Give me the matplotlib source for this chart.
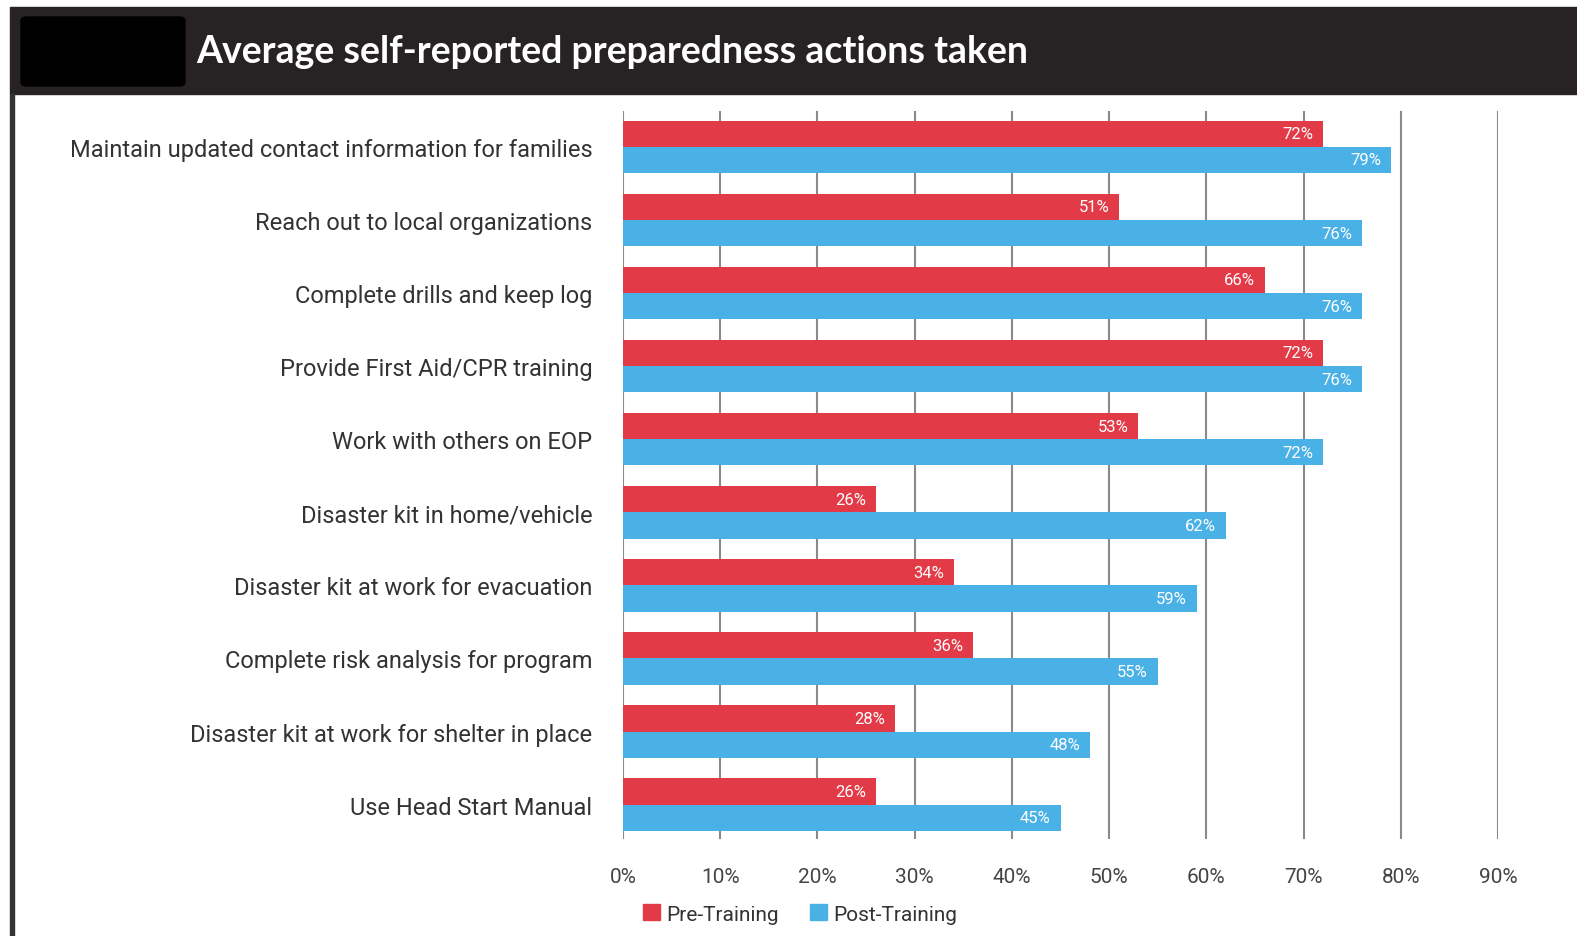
import matplotlib.pyplot as plt
from matplotlib.patches import Rectangle, FancyBboxPatch, Patch
import numpy as np

# --- Data ---
categories = [
    "Maintain updated contact information for families",
    "Reach out to local organizations",
    "Complete drills and keep log",
    "Provide First Aid/CPR training",
    "Work with others on EOP",
    "Disaster kit in home/vehicle",
    "Disaster kit at work for evacuation",
    "Complete risk analysis for program",
    "Disaster kit at work for shelter in place",
    "Use Head Start Manual",
]
pre_training = [72, 51, 66, 72, 53, 26, 34, 36, 28, 26]
post_training = [79, 76, 76, 76, 72, 62, 59, 55, 48, 45]
x_ticks = [0, 10, 20, 30, 40, 50, 60, 70, 80, 90]
title = "Average self-reported preparedness actions taken"

RED = "#E23A47"
BLUE = "#49B1E6"
plt.rcParams["font.family"] = ["Roboto", "DejaVu Sans"]

fig = plt.figure(figsize=(15.77, 9.37), dpi=100)

# header band with redacted box
fig.patches.append(Rectangle((10 / 1577, 1 - 95 / 937), 1, 87 / 937,
                             transform=fig.transFigure, color="#272324", zorder=0))
fig.patches.append(FancyBboxPatch((21 / 1577, 1 - 87 / 937), 164 / 1577, 69 / 937,
                                  boxstyle="round,pad=0,rounding_size=0.004",
                                  transform=fig.transFigure, color="black", zorder=1))
# left border line
fig.patches.append(Rectangle((10 / 1577, 0), 4 / 1577, 1 - 95 / 937,
                             transform=fig.transFigure, color="#333333", zorder=0))
fig.text(196 / 1577, 1 - 52 / 937, title, color="white", fontsize=27,
         fontweight="bold", va="center", ha="left", family=["Lato", "DejaVu Sans"])

ax = fig.add_axes([623 / 1577, 1 - 840 / 937, (1498 - 623) / 1577, (840 - 112) / 937])

y = np.arange(len(categories))
h = 0.36
ax.barh(y - h / 2, pre_training, height=h, color=RED, zorder=2)
ax.barh(y + h / 2, post_training, height=h, color=BLUE, zorder=2)

# value labels inside bar ends
for yi, v in zip(y, pre_training):
    ax.text(v - 1, yi - h / 2, f"{v}%", color="white", fontsize=12,
            ha="right", va="center", zorder=3)
for yi, v in zip(y, post_training):
    ax.text(v - 1, yi + h / 2, f"{v}%", color="white", fontsize=12,
            ha="right", va="center", zorder=3)

ax.set_xlim(0, 90)
ax.set_ylim(9.47, -0.49)
ax.set_xticks(x_ticks)
ax.set_xticklabels([f"{t}%" for t in x_ticks], fontsize=15, color="#444444")
ax.set_yticks(y)
ax.set_yticklabels(categories, fontsize=17, color="#333333")
ax.tick_params(axis="both", length=0)
ax.tick_params(axis="x", pad=20)
ax.tick_params(axis="y", pad=22)
ax.grid(axis="x", color="#8a8a8a", linewidth=1.5, zorder=1)
ax.set_axisbelow(True)
for s in ax.spines.values():
    s.set_visible(False)

handles = [Patch(color=RED, label="Pre-Training"), Patch(color=BLUE, label="Post-Training")]
fig.legend(handles=handles, loc="center", bbox_to_anchor=(800 / 1577, 1 - 915 / 937),
           ncol=2, frameon=False, fontsize=15, handlelength=0.8, handleheight=0.8,
           handletextpad=0.3, columnspacing=1.5, labelcolor="#333333")

plt.savefig("out.png", dpi=100)
